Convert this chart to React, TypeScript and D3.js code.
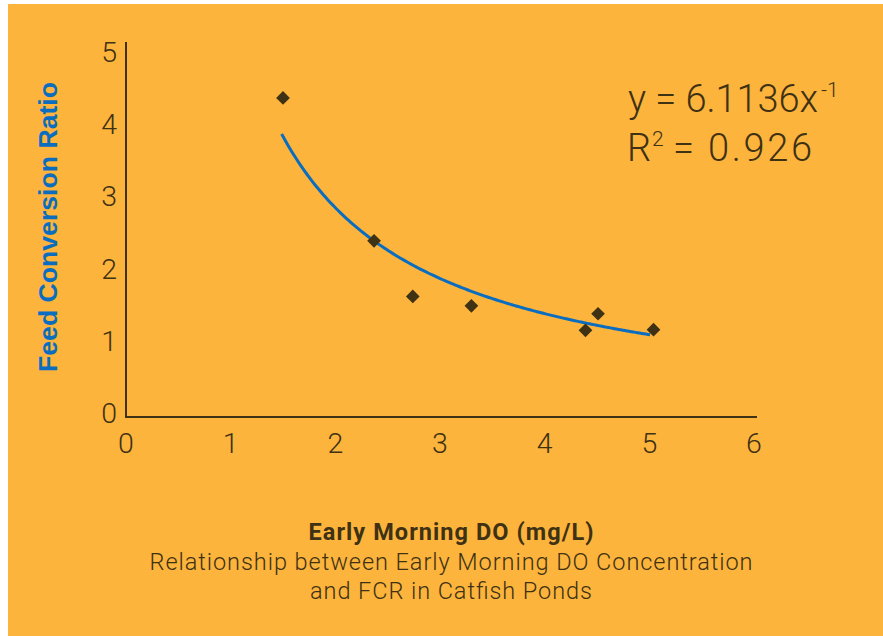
import React from "react";
import * as d3 from "d3";

const doValues = [1.5, 2.37, 2.74, 3.3, 4.39, 4.51, 5.04];
const fcrValues = [4.42, 2.44, 1.67, 1.54, 1.2, 1.43, 1.21];
const xTicks = [0, 1, 2, 3, 4, 5, 6];
const yTicks = [0, 1, 2, 3, 4, 5];
const trendCoef = 5.87;
const trendExp = -1.018;
const trendRange = [1.487, 5.02];
const equationText = "y = 6.1136x";
const equationExp = "-1";
const r2Label = "R";
const r2Exp = "2";
const r2Eq = "=";
const r2Value = "0.926";
const yTitle = "Feed Conversion Ratio";
const xTitle = "Early Morning DO (mg/L)";
const captionLines = [
  "Relationship between Early Morning DO Concentration",
  "and FCR in Catfish Ponds",
];
const captionWidths = [603, 282];

const W = 883;
const H = 636;
const BG = "#fcb43c";
const INK = "#3e3114";
const BLUE = "#0a6dbf";
const LIGHT = "Roboto, 'Open Sans', sans-serif";
const BOLD = "'Liberation Sans', Arial, sans-serif";

export default function App() {
  const x = d3.scaleLinear().domain([0, 6]).range([126, 754]);
  const y = d3.scaleLinear().domain([0, 5]).range([417, 56]);

  const trendX = d3.range(trendRange[0], trendRange[1] + 0.0001, 0.02);
  const line = d3
    .line<number>()
    .x((d) => x(d))
    .y((d) => y(trendCoef * Math.pow(d, trendExp)))
    .curve(d3.curveLinear);

  const diamond = d3.symbol().type(d3.symbolDiamond2).size(120)();

  return (
    <svg
      width={W}
      height={H}
      style={{ position: "absolute", left: 0, top: 0, display: "block" }}
    >
      <rect x={0} y={0} width={W} height={H} fill="#ffffff" />
      <rect x={8} y={4} width={W - 8} height={H - 4} fill={BG} />

      {/* axes */}
      <line x1={x(0)} x2={x(0)} y1={42} y2={y(0) + 1} stroke={INK} strokeWidth={2} />
      <line x1={x(0) - 1} x2={757} y1={y(0)} y2={y(0)} stroke={INK} strokeWidth={2} />

      {yTicks.map((t) => (
        <text
          key={"y" + t}
          x={117}
          y={y(t) + 6}
          textAnchor="end"
          fontFamily={LIGHT}
          fontWeight={300}
          fontSize={28.5}
          fill={INK}
        >
          {t}
        </text>
      ))}
      {xTicks.map((t) => (
        <text
          key={"x" + t}
          x={x(t)}
          y={453}
          textAnchor="middle"
          fontFamily={LIGHT}
          fontWeight={300}
          fontSize={28.5}
          fill={INK}
        >
          {t}
        </text>
      ))}

      {/* trendline */}
      <path d={line(trendX) || ""} fill="none" stroke={BLUE} strokeWidth={3} />

      {/* points */}
      {doValues.map((d, i) => (
        <path
          key={"p" + i}
          d={diamond || ""}
          transform={`translate(${x(d)},${y(fcrValues[i])})`}
          fill={INK}
        />
      ))}

      {/* equation */}
      <text
        x={628}
        y={112}
        fontFamily={LIGHT}
        fontWeight={300}
        fontSize={38}
        fill={INK}
        textLength={190}
        lengthAdjust="spacing"
      >
        {equationText}
      </text>
      <text x={821} y={97} fontFamily={LIGHT} fontWeight={300} fontSize={21} fill={INK}>
        {equationExp}
      </text>
      <text x={627} y={161} fontFamily={LIGHT} fontWeight={300} fontSize={38} fill={INK}>
        {r2Label}
      </text>
      <text x={652} y={146} fontFamily={LIGHT} fontWeight={300} fontSize={21} fill={INK}>
        {r2Exp}
      </text>
      <text x={673} y={161} fontFamily={LIGHT} fontWeight={300} fontSize={38} fill={INK}>
        {r2Eq}
      </text>
      <text
        x={708}
        y={161}
        fontFamily={LIGHT}
        fontWeight={300}
        fontSize={38}
        fill={INK}
        textLength={104}
        lengthAdjust="spacing"
      >
        {r2Value}
      </text>

      {/* y title */}
      <text
        transform={`translate(57,227) rotate(-90)`}
        textAnchor="middle"
        fontFamily={BOLD}
        fontWeight={700}
        fontSize={26}
        fill={BLUE}
        textLength={290}
        lengthAdjust="spacingAndGlyphs"
      >
        {yTitle}
      </text>

      {/* x title */}
      <text
        x={451}
        y={540}
        textAnchor="middle"
        fontFamily={LIGHT}
        fontWeight={700}
        fontSize={23.5}
        fill={INK}
        textLength={285}
        lengthAdjust="spacing"
      >
        {xTitle}
      </text>
      {captionLines.map((l, i) => (
        <text
          key={"c" + i}
          x={451}
          y={570 + i * 29}
          textAnchor="middle"
          fontFamily={LIGHT}
          fontWeight={300}
          fontSize={23.5}
          fill={INK}
          textLength={captionWidths[i]}
          lengthAdjust="spacing"
        >
          {l}
        </text>
      ))}
    </svg>
  );
}
